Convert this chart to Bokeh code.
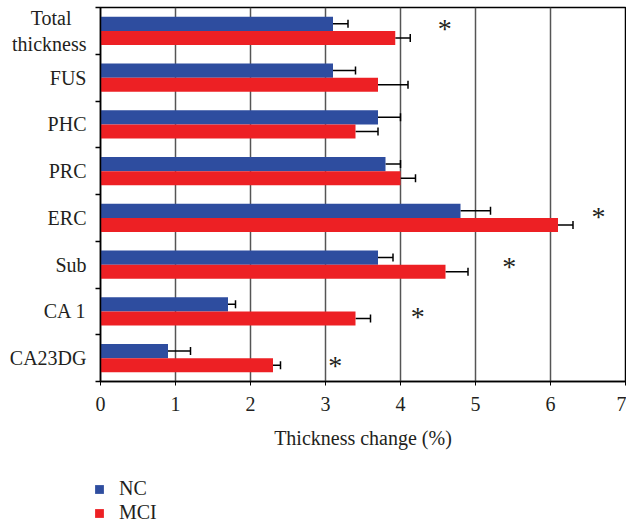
from bokeh.plotting import figure
from bokeh.layouts import column
from bokeh.models import (ColumnDataSource, FixedTicker, Whisker, TeeHead, Legend, LegendItem)
from bokeh.core.properties import value
from bokeh.embed import file_html
from bokeh.resources import INLINE

NB = "\u00a0"
categories = ["Total" + NB * 3 + "\nthickness", "FUS", "PHC", "PRC", "ERC", "Sub", "CA 1", "CA23DG"]
nc = [3.1, 3.1, 3.7, 3.8, 4.8, 3.7, 1.7, 0.9]
nc_err = [0.2, 0.3, 0.3, 0.2, 0.4, 0.2, 0.1, 0.3]
mci = [3.93, 3.7, 3.4, 4.0, 6.1, 4.6, 3.4, 2.3]
mci_err = [0.2, 0.4, 0.3, 0.2, 0.2, 0.3, 0.2, 0.1]
sig_idx = [0, 4, 5, 6, 7]
sig_x = [4.59, 6.64, 5.45, 4.23, 3.13]
sig_dy = [0.06, 0.04, -0.03, -0.10, -0.165]
x_ticks = [0, 1, 2, 3, 4, 5, 6, 7]
series = ["NC", "MCI"]

FONT = "Liberation Serif"
TXT = "#231f20"
BLUE = "#2e4d9f"
RED = "#ed2024"

n = len(categories)
centers = [n - i - 0.5 for i in range(n)]
off = 0.15
src = ColumnDataSource(dict(
    y_nc=[c + off for c in centers], y_mci=[c - off for c in centers],
    nc=nc, mci=mci,
    nc_hi=[a + b for a, b in zip(nc, nc_err)],
    mci_hi=[a + b for a, b in zip(mci, mci_err)],
))

p = figure(width=626, height=464, x_range=(0, 7), y_range=(0, n),
           output_backend="svg", toolbar_location=None,
           min_border_left=100, min_border_right=1, min_border_top=7, min_border_bottom=83)
p.frame_align = False

p.hbar(y="y_nc", left=0, right="nc", height=0.3, source=src, fill_color=BLUE, line_color=None)
p.hbar(y="y_mci", left=0, right="mci", height=0.3, source=src, fill_color=RED, line_color=None)

for base, lo, hi in (("y_nc", "nc", "nc_hi"), ("y_mci", "mci", "mci_hi")):
    w = Whisker(base=base, lower=lo, upper=hi, dimension="width", source=src,
                line_color="black", line_width=1.5, lower_head=None,
                upper_head=TeeHead(size=8, line_color="black", line_width=1.5))
    p.add_layout(w)

p.text(x=sig_x, y=[centers[i] + d for i, d in zip(sig_idx, sig_dy)], text=["*"] * len(sig_x),
       text_font=value(FONT), text_font_size="28px", text_color=TXT,
       text_align="center", text_baseline="middle")

# axes
p.xaxis.ticker = FixedTicker(ticks=x_ticks)
p.xaxis.axis_label = "Thickness change (%)"
p.xaxis.axis_label_text_font = FONT
p.xaxis.axis_label_text_font_style = "normal"
p.xaxis.axis_label_text_font_size = "20px"
p.xaxis.axis_label_text_color = TXT
p.xaxis.axis_label_standoff = 13
p.xaxis.major_label_text_font = FONT
p.xaxis.major_label_text_font_size = "20px"
p.xaxis.major_label_text_color = TXT
p.xaxis.major_label_standoff = 11
p.xaxis.major_tick_in = 0
p.xaxis.major_tick_out = 4
p.xaxis.minor_tick_line_color = None
p.xaxis.axis_line_color = "black"
p.xaxis.axis_line_width = 1.5
p.xaxis.major_tick_line_color = "black"

p.yaxis.ticker = FixedTicker(ticks=centers, minor_ticks=list(range(n + 1)))
p.yaxis.major_label_overrides = {c: lab for c, lab in zip(centers, categories)}
p.yaxis.major_tick_in = 0
p.yaxis.major_tick_out = 0
p.yaxis.minor_tick_in = 0
p.yaxis.minor_tick_out = 5
p.yaxis.minor_tick_line_color = "black"
p.yaxis.minor_tick_line_width = 1.5
p.yaxis.axis_line_color = "black"
p.yaxis.axis_line_width = 1.5
p.yaxis.major_label_text_font = FONT
p.yaxis.major_label_text_font_size = "20px"
p.yaxis.major_label_text_color = TXT
p.yaxis.major_label_standoff = 9

p.xgrid.ticker = FixedTicker(ticks=x_ticks)
p.xgrid.grid_line_color = "#555555"
p.xgrid.grid_line_width = 1.5
p.ygrid.grid_line_color = None
p.outline_line_color = "black"
p.outline_line_width = 1.5

# legend panel, its frame spanning the full width
leg = figure(width=626, height=60, x_range=(0, 1), y_range=(0, 1),
             output_backend="svg", toolbar_location=None,
             min_border_left=0, min_border_right=0, min_border_top=0, min_border_bottom=0)
leg.frame_align = False
leg.axis.visible = False
leg.grid.grid_line_color = None
leg.outline_line_color = None
hidden = ColumnDataSource(dict(x=[-10], y=[-10]))
l_nc = leg.scatter(x="x", y="y", marker="square", size=9, source=hidden, fill_color=BLUE, line_color=None)
l_mci = leg.scatter(x="x", y="y", marker="square", size=9, source=hidden, fill_color=RED, line_color=None)
legend = Legend(items=[LegendItem(label=series[0], renderers=[l_nc]),
                       LegendItem(label=series[1], renderers=[l_mci])],
                location=(88, 0), orientation="vertical",
                glyph_width=22, glyph_height=22, label_height=20, spacing=1,
                label_standoff=9, padding=0, margin=0,
                border_line_color=None, background_fill_alpha=0,
                label_text_font=FONT, label_text_font_size="20px", label_text_color=TXT)
leg.add_layout(legend, "center")

open("out.html", "w").write(file_html(column(p, leg, spacing=0), INLINE))
